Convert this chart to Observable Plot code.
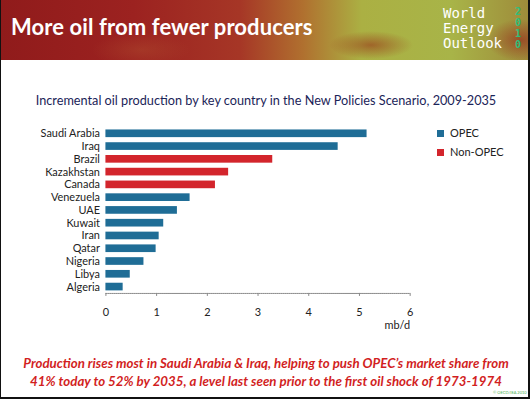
<!DOCTYPE html>
<html>
<head>
<meta charset="utf-8">
<script src="https://cdn.jsdelivr.net/npm/d3@7"></script>
<script src="https://cdn.jsdelivr.net/npm/@observablehq/plot@0.6"></script>
<style>
  html, body { margin: 0; padding: 0; background: #fff; }
  #page { position: relative; width: 530px; height: 399px; overflow: hidden; background: #fff; font-family: Lato, "Open Sans", sans-serif; box-sizing: border-box; border-left: 1px solid #111; border-right: 2px solid #111; border-bottom: 2px solid #111; }
  #banner { position: absolute; left: 0; top: 0; width: 530px; height: 60px;
    background:
      radial-gradient(ellipse 60px 20px at 370px 45px, rgba(150,40,20,0.55), rgba(150,40,20,0) 70%),
      radial-gradient(ellipse 50px 30px at 520px 40px, rgba(150,50,30,0.7), rgba(150,50,30,0) 70%),
      radial-gradient(ellipse 70px 25px at 140px 50px, rgba(180,90,50,0.35), rgba(180,90,50,0) 70%),
      linear-gradient(90deg, #901b1b 0%, #9c2220 25%, #a63626 45%, #b0702f 57%, #abb043 68%, #a8b448 85%, #9e8a3a 100%); }
  #title { position: absolute; left: 10px; top: 13px; color: #fff; font-family: Lato, sans-serif; font-weight: 700; font-size: 22px; letter-spacing: 0.1px; }
  .weo { position: absolute; left: 442px; color: #fff; font-family: "DejaVu Sans Mono", monospace; font-size: 14px; line-height: 14px; white-space: nowrap; }
  .yr { position: absolute; left: 514px; color: #2fbf7a; font-family: "DejaVu Sans Mono", monospace; font-size: 10px; line-height: 10px; font-weight: bold; }
  #subtitle { position: absolute; left: 0; width: 530px; top: 92px; text-align: center; color: #1b2458; font-size: 12.7px; font-family: Lato, sans-serif; }
  #chart { position: absolute; left: 0; top: 110px; }
  .leg { position: absolute; font-size: 11px; color: #222; font-family: Lato, sans-serif; }
  .sw { position: absolute; width: 7px; height: 7px; }
  #caption { position: absolute; left: 0; width: 530px; top: 354px; text-align: center; color: #d21f1f; font-style: italic; font-weight: 700; font-size: 13.3px; line-height: 18px; font-family: Lato, sans-serif; }
  #copy { position: absolute; left: 492px; top: 390px; font-size: 4px; color: #4caf50; }
</style>
</head>
<body>
<div id="page">
  <div id="banner"></div>
  <div id="title">More oil from fewer producers</div>
  <div class="weo" style="top:6px">World</div>
  <div class="weo" style="top:21px">Energy</div>
  <div class="weo" style="top:36px">Outlook</div>
  <div class="yr" style="top:7px">2</div>
  <div class="yr" style="top:18px">0</div>
  <div class="yr" style="top:29px">1</div>
  <div class="yr" style="top:40px">0</div>
  <div id="subtitle">Incremental oil production by key country in the New Policies Scenario, 2009-2035</div>
  <div id="chart"></div>
  <div class="sw" style="left:436px;top:130px;background:#1f6d96"></div>
  <div class="leg" style="left:449px;top:126px">OPEC</div>
  <div class="sw" style="left:436px;top:149px;background:#d3252c"></div>
  <div class="leg" style="left:449px;top:145px">Non-OPEC</div>
  <div id="caption">Production rises most in Saudi Arabia &amp; Iraq, helping to push OPEC’s market share from<br>41% today to 52% by 2035, a level last seen prior to the first oil shock of 1973-1974</div>
  <div id="copy">© OECD/IEA 2010</div>
</div>
<script>
const countries = ["Saudi Arabia", "Iraq", "Brazil", "Kazakhstan", "Canada", "Venezuela", "UAE", "Kuwait", "Iran", "Qatar", "Nigeria", "Libya", "Algeria"];
const values = [5.15, 4.58, 3.29, 2.42, 2.16, 1.66, 1.41, 1.14, 1.05, 0.99, 0.75, 0.48, 0.34];
const groups = ["OPEC", "OPEC", "Non-OPEC", "Non-OPEC", "Non-OPEC", "OPEC", "OPEC", "OPEC", "OPEC", "OPEC", "OPEC", "OPEC", "OPEC"];
const xTicks = [0, 1, 2, 3, 4, 5, 6];
const unitLabel = ["mb/d"];

const data = countries.map((c, i) => ({country: c, value: values[i], group: groups[i]}));

const chart = Plot.plot({
  width: 530,
  height: 232,
  marginLeft: 105,
  marginRight: 119,
  marginTop: 17,
  marginBottom: 48,
  style: {fontFamily: "Lato, sans-serif", fontSize: "11px", color: "#222", background: "transparent"},
  x: {domain: [0, 6], ticks: xTicks},
  y: {domain: countries, paddingInner: 0.4, paddingOuter: 0.2, align: 0.5, round: false},
  color: {domain: ["OPEC", "Non-OPEC"], range: ["#1f6d96", "#d3252c"]},
  marks: [
    Plot.barX(data, {x: "value", y: "country", fill: "group"}),
    Plot.frame({anchor: "bottom", stroke: "#888", strokeDasharray: "1,1"}),
    Plot.axisY({tickSize: 0, tickPadding: 6, label: null, fill: "#222"}),
    Plot.axisX({ticks: xTicks, tickSize: 3, tickPadding: 12, stroke: "#888", fill: "#222", tickFormat: d3.format("d"), label: null}),
    Plot.text(unitLabel, {x: xTicks[xTicks.length - 1], frameAnchor: "bottom", dy: 36, textAnchor: "end", fill: "#222"})
  ]
});
document.getElementById("chart").appendChild(chart);
</script>
</body>
</html>
